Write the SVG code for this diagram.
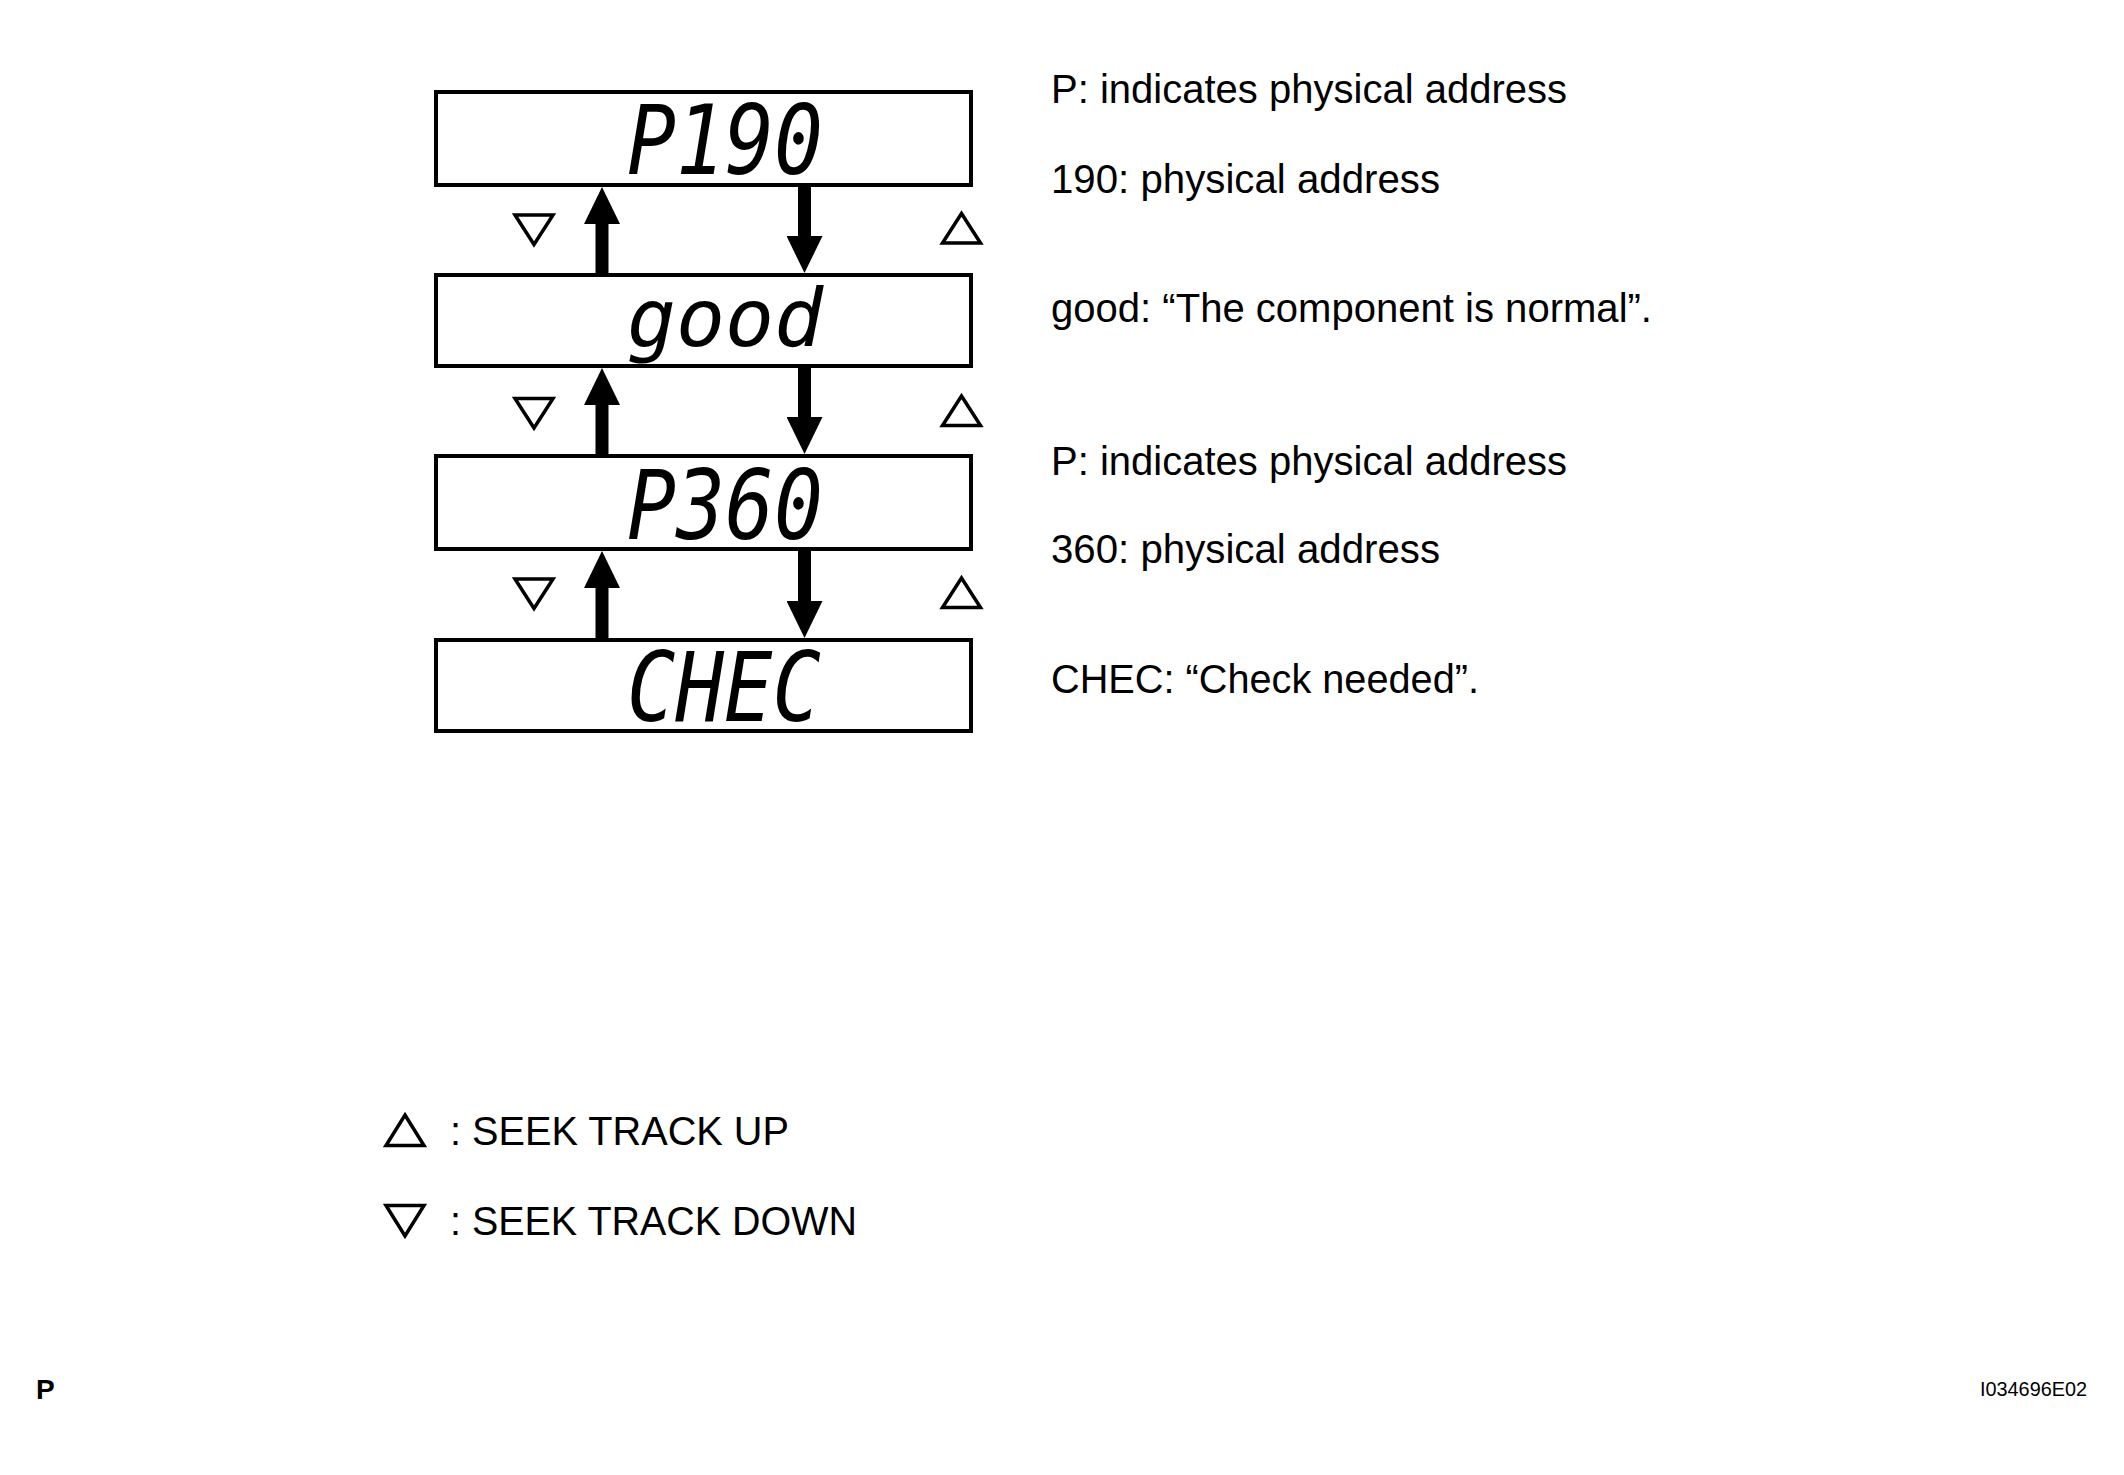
<svg xmlns="http://www.w3.org/2000/svg" width="2124" height="1475" viewBox="0 0 2124 1475">
<style>
.box{fill:#fff;stroke:#000;stroke-width:4}
.seg{font-family:"DejaVu Sans Mono","Liberation Mono",monospace;font-style:italic;font-size:97px;fill:#000}
.t{font-family:"Liberation Sans",Arial,sans-serif;font-size:41px;fill:#000}
.lg{font-family:"Liberation Sans",Arial,sans-serif;font-size:41px;fill:#000}
.tri{fill:none;stroke:#000;stroke-width:3.5}
.shaft{stroke:#000;stroke-width:13;fill:none}
</style>
<defs>
<marker id="ah" markerUnits="userSpaceOnUse" markerWidth="37" markerHeight="36" refX="0" refY="18" orient="auto" viewBox="0 0 37 36">
<path d="M0,0 L37,18 L0,36 Z" fill="#000"/>
</marker>
<path id="tdown" class="tri" d="M-19,-14.5 L19,-14.5 L0,15 Z"/>
<path id="tup" class="tri" d="M0,-15 L19,14.5 L-19,14.5 Z"/>
</defs>
<rect width="2124" height="1475" fill="#fff"/>
<g id="node-p190">
<rect class="box" x="436" y="92" width="535" height="93"/>
<text class="seg" x="627" y="174" textLength="196" lengthAdjust="spacingAndGlyphs">P190</text>
</g>
<g id="node-good">
<rect class="box" x="436" y="275" width="535" height="91"/>
<text class="seg" x="627" y="346" style="font-size:80px" textLength="196" lengthAdjust="spacingAndGlyphs">good</text>
</g>
<g id="node-p360">
<rect class="box" x="436" y="456" width="535" height="93"/>
<text class="seg" x="627" y="539" textLength="196" lengthAdjust="spacingAndGlyphs">P360</text>
</g>
<g id="node-chec">
<rect class="box" x="436" y="640" width="535" height="91"/>
<text class="seg" x="627" y="721" textLength="194" lengthAdjust="spacingAndGlyphs">CHEC</text>
</g>
<g id="connectors">
<line class="shaft" x1="602" y1="273" x2="602" y2="224" marker-end="url(#ah)"/>
<line class="shaft" x1="804.5" y1="187" x2="804.5" y2="236" marker-end="url(#ah)"/>
<line class="shaft" x1="602" y1="454" x2="602" y2="405" marker-end="url(#ah)"/>
<line class="shaft" x1="804.5" y1="368" x2="804.5" y2="417" marker-end="url(#ah)"/>
<line class="shaft" x1="602" y1="638" x2="602" y2="588" marker-end="url(#ah)"/>
<line class="shaft" x1="804.5" y1="551" x2="804.5" y2="601" marker-end="url(#ah)"/>
</g>
<g id="keys">
<use href="#tdown" x="534" y="229.5"/>
<use href="#tup" x="961.5" y="228.5"/>
<use href="#tdown" x="534" y="413"/>
<use href="#tup" x="961.5" y="411"/>
<use href="#tdown" x="534" y="593.5"/>
<use href="#tup" x="961.5" y="593"/>
</g>
<g id="notes">
<text class="t" x="1051" y="103" textLength="516" lengthAdjust="spacingAndGlyphs">P: indicates physical address</text>
<text class="t" x="1051" y="193" textLength="389" lengthAdjust="spacingAndGlyphs">190: physical address</text>
<text class="t" x="1051" y="322" textLength="601" lengthAdjust="spacingAndGlyphs">good: “The component is normal”.</text>
<text class="t" x="1051" y="475" textLength="516" lengthAdjust="spacingAndGlyphs">P: indicates physical address</text>
<text class="t" x="1051" y="563" textLength="389" lengthAdjust="spacingAndGlyphs">360: physical address</text>
<text class="t" x="1051" y="693" textLength="428" lengthAdjust="spacingAndGlyphs">CHEC: “Check needed”.</text>
</g>
<g id="legend">
<path d="M405,1115 L424,1145.5 L386,1145.5 Z" fill="none" stroke="#000" stroke-width="3.5"/>
<text class="lg" x="450" y="1145" textLength="339" lengthAdjust="spacingAndGlyphs">: SEEK TRACK UP</text>
<path d="M386,1205.5 L424,1205.5 L405,1236 Z" fill="none" stroke="#000" stroke-width="3.5"/>
<text class="lg" x="450" y="1235" textLength="407" lengthAdjust="spacingAndGlyphs">: SEEK TRACK DOWN</text>
</g>
<text x="36" y="1399" font-family="Liberation Sans, Arial, sans-serif" font-size="28" font-weight="bold">P</text>
<text x="1980" y="1396" font-family="Liberation Sans, Arial, sans-serif" font-size="20" textLength="107" lengthAdjust="spacingAndGlyphs">I034696E02</text>
</svg>
